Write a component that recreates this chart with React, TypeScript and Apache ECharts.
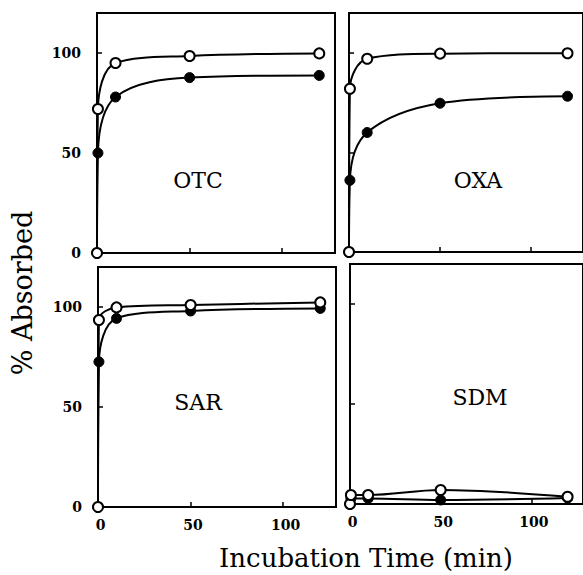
import React, { useEffect, useRef } from "react";
import * as echarts from "echarts";

const times = [0, 0.5, 10, 50, 120];
const otcOpen = [0, 72, 95, 98.5, 99.8];
const otcFilled = [0, 50, 78, 87.7, 88.8];
const oxaOpen = [0, 82, 97, 99.6, 99.8];
const oxaFilled = [0, 36, 60, 74.7, 78.2];
const sarOpen = [0, 93.5, 99.8, 101, 102.3];
const sarFilled = [0, 72.6, 94.3, 98, 99.3];
const sdmOpen = [0, 4.5, 4.5, 7, 3.6];
const sdmFilled = [0, 2.8, 2.8, 2, 3];

const panelNames = ["OTC", "OXA", "SAR", "SDM"];
const yTicks = [0, 50, 100];
const xTicks = [0, 50, 100];

const FONT = "DejaVu Serif";

export default function App() {
  const ref = useRef<HTMLDivElement>(null);
  useEffect(() => {
    if (!ref.current) return;
    const chart = echarts.init(ref.current, null, { renderer: "svg" });
    const grids = [
      { left: 97, top: 13, width: 238, height: 240 },
      { left: 349, top: 13, width: 240, height: 239 },
      { left: 98, top: 267, width: 238, height: 240 },
      { left: 350, top: 264, width: 240, height: 240 },
    ].map((g) => ({
      ...g,
      show: true,
      borderColor: "#000",
      borderWidth: 2,
      backgroundColor: "transparent",
    }));
    const openS = [otcOpen, oxaOpen, sarOpen, sdmOpen];
    const filledS = [otcFilled, oxaFilled, sarFilled, sdmFilled];
    const xAxes = grids.map((_, i) => ({
      type: "value",
      gridIndex: i,
      min: 0,
      max: 128.5,
      interval: 50,
      axisLine: { show: true, lineStyle: { color: "#000", width: 2 } },
      axisTick: { show: true, inside: true, length: 5, lineStyle: { color: "#000", width: 1.5 }, customValues: xTicks },
      axisLabel: {
        show: i >= 2,
        customValues: xTicks,
        margin: 11,
        color: "#000",
        fontFamily: FONT,
        fontWeight: "bold",
        fontSize: 14,
        padding: [0, 0, 0, 5],
      },
      splitLine: { show: false },
    }));
    const yAxes = grids.map((_, i) => ({
      type: "value",
      gridIndex: i,
      min: 0,
      max: 120,
      interval: 50,
      axisLine: { show: true, lineStyle: { color: "#000", width: 2 } },
      axisTick: { show: true, inside: true, length: 5, lineStyle: { color: "#000", width: 1.5 }, customValues: yTicks },
      axisLabel: {
        show: i % 2 === 0,
        customValues: yTicks,
        margin: 16,
        color: "#000",
        fontFamily: FONT,
        fontWeight: "bold",
        fontSize: 14,
      },
      splitLine: { show: false },
    }));
    const series: any[] = [];
    for (let i = 0; i < 4; i++) {
      series.push({
        type: "line",
        xAxisIndex: i,
        yAxisIndex: i,
        data: times.map((t, k) => [t, filledS[i][k]]),
        smooth: 0.35,
        clip: false,
        symbol: "circle",
        symbolSize: 10,
        showAllSymbol: true,
        lineStyle: { color: "#000", width: 2 },
        itemStyle: { color: "#000", borderColor: "#000", borderWidth: 1 },
        z: 2,
      });
    }
    for (let i = 0; i < 4; i++) {
      series.push({
        type: "line",
        xAxisIndex: i,
        yAxisIndex: i,
        data: times.map((t, k) => [t, openS[i][k]]),
        smooth: 0.35,
        clip: false,
        symbol: "circle",
        symbolSize: 10,
        showAllSymbol: true,
        lineStyle: { color: "#000", width: 2 },
        itemStyle: { color: "#fff", borderColor: "#000", borderWidth: 2 },
        z: 3,
      });
    }
    const labelPos = [
      [198, 180],
      [478, 180],
      [198, 402],
      [480, 397],
    ];
    const graphic: any[] = panelNames.map((n, i) => ({
      type: "text",
      x: labelPos[i][0],
      y: labelPos[i][1],
      style: {
        text: n,
        fill: "#000",
        font: `22px "${FONT}"`,
        align: "center",
        verticalAlign: "middle",
      },
    }));
    graphic.push({
      type: "text",
      x: 22,
      y: 293,
      rotation: Math.PI / 2,
      style: {
        text: "% Absorbed",
        fill: "#000",
        font: `27px "${FONT}"`,
        align: "center",
        verticalAlign: "middle",
      },
    });
    graphic.push({
      type: "text",
      x: 366,
      y: 558,
      style: {
        text: "Incubation Time (min)",
        fill: "#000",
        font: `26px "${FONT}"`,
        lineHeight: 26,
        align: "center",
        verticalAlign: "middle",
      },
    });
    chart.setOption({
      animation: false,
      backgroundColor: "#fff",
      grid: grids,
      xAxis: xAxes,
      yAxis: yAxes,
      series,
      graphic,
    });
    return () => chart.dispose();
  }, []);
  return (
    <div
      ref={ref}
      style={{ position: "absolute", left: 0, top: 0, width: 583, height: 575 }}
    />
  );
}
